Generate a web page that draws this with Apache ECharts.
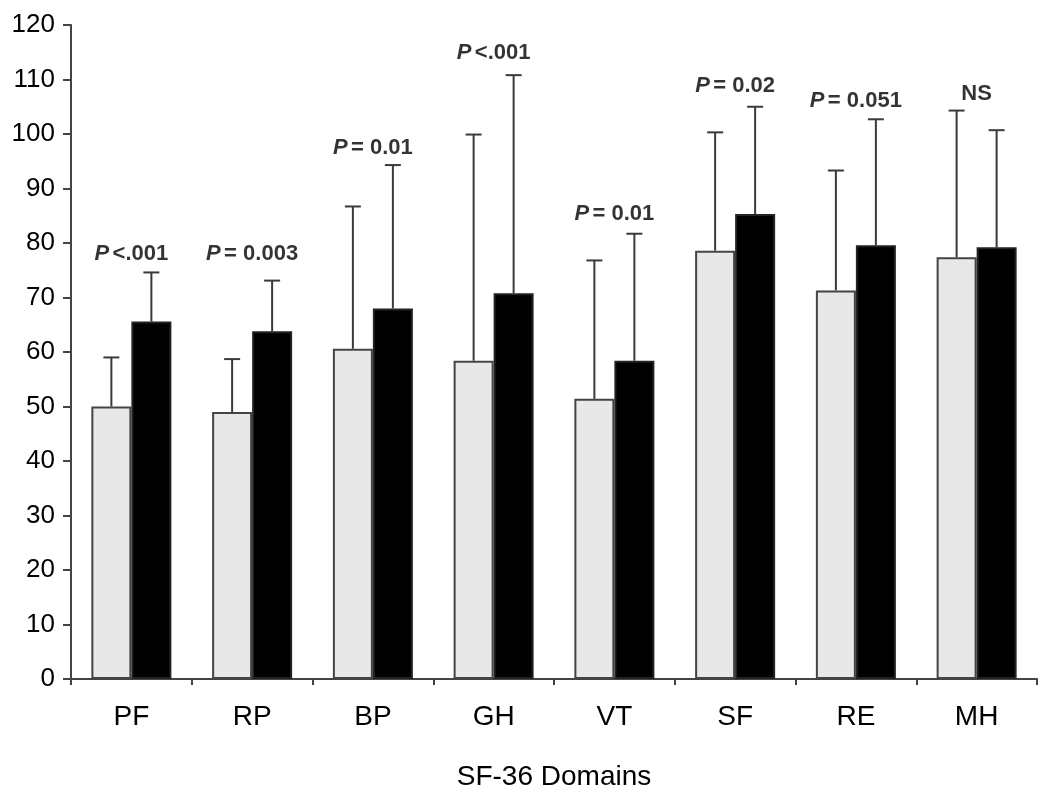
<!DOCTYPE html>
<html>
<head>
<meta charset="utf-8">
<script src="https://cdn.jsdelivr.net/npm/echarts@6/dist/echarts.min.js"></script>
<style>
  html, body { margin: 0; padding: 0; background: #fff; }
  #chart { width: 1050px; height: 799px; }
</style>
</head>
<body>
<div id="chart"></div>
<script>
const domains = ["PF", "RP", "BP", "GH", "VT", "SF", "RE", "MH"];
const groupA = [50.0, 49.0, 60.6, 58.4, 51.4, 78.6, 71.3, 77.4];
const groupAUpper = [59.0, 58.7, 86.7, 99.9, 76.8, 100.3, 93.3, 104.3];
const groupB = [65.6, 63.8, 68.0, 70.8, 58.4, 85.3, 79.6, 79.2];
const groupBUpper = [74.6, 73.1, 94.3, 110.8, 81.7, 105.0, 102.7, 100.7];
const pTexts = ["<.001", "= 0.003", "= 0.01", "<.001", "= 0.01", "= 0.02", "= 0.051", "NS"];
const pLabelAt = [78.0, 78.0, 97.5, 114.9, 85.4, 108.8, 106.1, 107.4];
const yTicks = { min: 0, max: 120, interval: 10 };

const BAR_W = 40;
const FONT = "'Liberation Sans', Arial, sans-serif";

const chart = echarts.init(document.getElementById("chart"));

function errorBar(offset) {
  return function (params, api) {
    const i = api.value(0);
    const base = api.coord([i, api.value(1)]);
    const top = api.coord([i, api.value(2)]);
    const x = base[0] + offset;
    const style = { stroke: "#3a3a3a", lineWidth: 2 };
    return {
      type: "group",
      children: [
        { type: "line", shape: { x1: x, y1: base[1], x2: x, y2: top[1] }, style },
        { type: "line", shape: { x1: x - 8, y1: top[1], x2: x + 8, y2: top[1] }, style },
      ],
    };
  };
}

chart.setOption({
  animation: false,
  backgroundColor: "#fff",
  grid: { left: 71, right: 13, top: 25, bottom: 120, containLabel: false, outerBoundsMode: "none" },
  xAxis: {
    type: "category",
    data: domains,
    name: "SF-36 Domains",
    nameLocation: "middle",
    nameGap: 84,
    nameTextStyle: { color: "#000", fontSize: 28, fontFamily: FONT },
    axisLine: { lineStyle: { color: "#444", width: 2 } },
    axisTick: { show: true, length: 6, lineStyle: { color: "#444", width: 2 } },
    axisLabel: { color: "#000", fontSize: 28, fontFamily: FONT, margin: 24 },
  },
  yAxis: {
    type: "value",
    min: yTicks.min,
    max: yTicks.max,
    interval: yTicks.interval,
    axisLine: { show: true, lineStyle: { color: "#444", width: 2 } },
    axisTick: { show: true, length: 8, lineStyle: { color: "#444", width: 2 } },
    axisLabel: { color: "#000", fontSize: 26, fontFamily: FONT, margin: 16 },
    splitLine: { show: false },
  },
  series: [
    {
      type: "bar",
      data: groupA,
      barWidth: BAR_W,
      barGap: "0%",
      itemStyle: { color: "#e8e8e8", borderColor: "#444", borderWidth: 2 },
      z: 2,
    },
    {
      type: "bar",
      data: groupB,
      barWidth: BAR_W,
      itemStyle: { color: "#000", borderColor: "#222", borderWidth: 2 },
      z: 2,
    },
    {
      type: "custom",
      renderItem: errorBar(-BAR_W / 2),
      data: domains.map((d, i) => [i, groupA[i], groupAUpper[i]]),
      z: 1,
    },
    {
      type: "custom",
      renderItem: errorBar(BAR_W / 2),
      data: domains.map((d, i) => [i, groupB[i], groupBUpper[i]]),
      z: 1,
    },
    {
      type: "scatter",
      symbolSize: 0,
      data: domains.map((d, i) => [i, pLabelAt[i]]),
      label: {
        show: true,
        position: "inside",
        formatter: (p) => {
          const t = pTexts[p.dataIndex];
          return t === "NS" ? "{b|NS}" : "{i|P} {b|" + t + "}";
        },
        rich: {
          i: { fontSize: 22, fontStyle: "italic", fontWeight: "bold", color: "#000", fontFamily: FONT },
          b: { fontSize: 22, fontWeight: "bold", color: "#000", fontFamily: FONT },
        },
      },
      z: 3,
    },
  ],
});
</script>
</body>
</html>
